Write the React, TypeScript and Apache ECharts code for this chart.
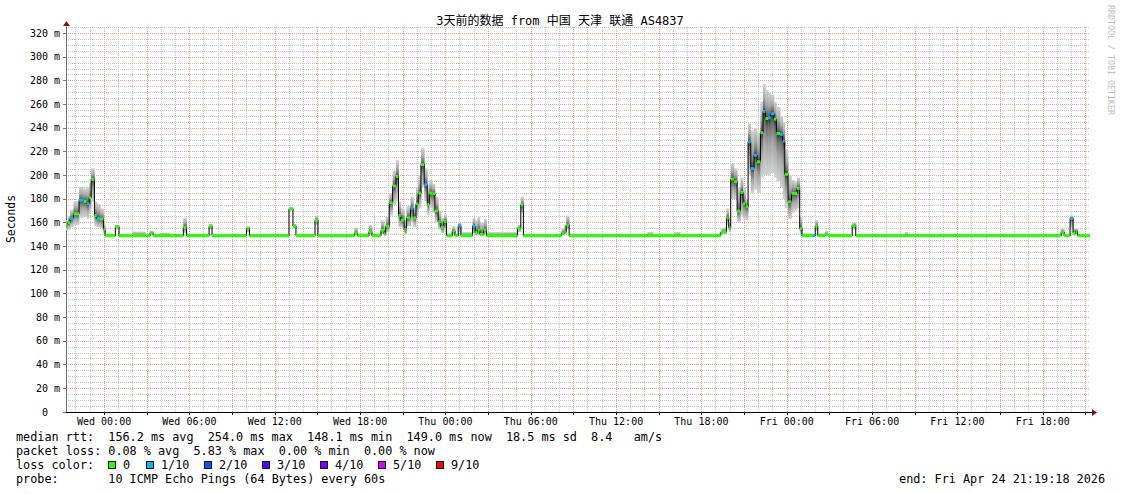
import { useEffect, useRef } from 'react';
import * as echarts from 'echarts';

// Time axis: hours relative to Wed 00:00. Window = Tue 21:19:18 .. Fri 21:19:18
const START = -2.6783;
const END = 69.3217;

// Segment start times (hours), median RTT (ms), smoke range (ms) and loss (of 10)
const hours = [
  -2.68, -2.55, -2.39, -2.16, -1.76, -1.45, -1.22, -1.05, -0.91, -0.68,
  -0.51, -0.28, -0.05, 0.07, 0.79, 1.05, 2.0, 2.9, 3.23, 3.44,
  3.9, 4.6, 5.57, 5.8, 7.38, 7.59, 10.01, 10.22, 13.0, 13.28,
  13.49, 14.83, 15.04, 17.6, 17.81, 18.62, 18.83, 19.47, 19.68, 19.8,
  20.05, 20.29, 20.52, 20.7, 20.87, 21.1, 21.27, 21.55, 21.74, 21.93,
  22.09, 22.28, 22.51, 22.72, 22.86, 23.07, 23.26, 23.49, 23.68, 23.89,
  24.08, 24.48, 24.67, 24.9, 25.09, 25.91, 26.09, 26.26, 26.42, 26.7,
  26.89, 29.07, 29.3, 29.48, 32.16, 32.36, 32.49, 32.7, 38.2, 38.6,
  40.1, 40.5, 43.13, 43.36, 43.52, 43.76, 43.92, 44.06, 44.29, 44.51,
  44.74, 44.93, 45.1, 45.28, 45.47, 45.7, 45.91, 46.15, 46.33, 46.5,
  46.69, 46.87, 47.1, 47.27, 47.53, 47.72, 47.86, 48.09, 48.33, 48.51,
  48.72, 48.91, 49.07, 49.85, 50.0, 50.18, 50.7, 50.9, 52.6, 52.85,
  56.3, 56.5, 67.29, 67.5, 67.92, 68.13, 68.31, 68.45,
];

const median = [
  158, 160, 163.5, 167.5, 179, 178, 176, 181, 196.5, 166,
  163.5, 163, 154, 149, 156.5, 149, 149, 149, 151.5, 149,
  149, 149, 156, 149, 157, 149, 155, 149, 171.7, 157,
  149, 162, 149, 151, 149, 152.3, 149, 153.7, 150.5, 157,
  176.8, 191, 199, 166, 162, 154, 164, 172, 164, 176,
  185, 209, 192, 175.5, 185, 184.5, 170, 160.7, 156, 161,
  149, 153, 149, 157.3, 149, 157, 151.5, 153.7, 150, 153.7,
  149, 155, 175, 149, 151, 152, 158, 149, 149, 149,
  149, 149, 149, 151.7, 152.3, 164, 155.7, 196.8, 194.6, 169.8,
  185.5, 176, 173.5, 228.3, 205.8, 217, 211.4, 236, 254, 248,
  248.6, 252, 247.5, 235.4, 234.5, 228.9, 200.8, 177.6, 184.7, 184.7,
  189, 155, 149, 149, 157, 149, 150, 149, 157.5, 149,
  149, 149, 152, 149, 163.5, 151, 153, 149,
];

const smokeLo = [
  153, 154, 156, 158, 164, 165, 163, 168, 178, 157,
  156, 155, 150, 148.5, 154, 148.5, 148.5, 148.5, 149.5, 148.5,
  148.5, 148.5, 151, 148.5, 154, 148.5, 152, 148.5, 170, 155,
  148.5, 158, 148.5, 149, 148.5, 150, 148.5, 150, 149, 152,
  166, 175, 178, 156, 155, 150, 157, 160, 156, 165,
  172, 190, 178, 166, 172, 168, 160, 154, 151, 153,
  148.5, 150, 148.5, 152, 148.5, 151, 149, 150, 149, 150,
  148.5, 152, 168, 148.5, 149, 150, 154, 148.5, 148.5, 148.5,
  148.5, 148.5, 148.5, 150, 150, 158, 152, 180, 180, 160,
  165, 163, 162, 200, 185, 188, 185, 198, 200, 200,
  200, 202, 198, 195, 190, 180, 172, 163, 168, 170,
  172, 150, 148.5, 148.5, 153, 148.5, 149, 148.5, 154, 148.5,
  148.5, 148.5, 150, 148.5, 155, 149, 150, 148.5,
];

const smokeHi = [
  162, 166, 171, 178, 190, 189, 190, 194, 206, 178,
  176, 172, 160, 150.5, 158, 150.5, 152.5, 150.5, 153, 150.5,
  151.5, 150.5, 164, 150.5, 159, 150.5, 157, 150.5, 173, 159,
  150.5, 166, 150.5, 156, 151, 158, 151, 162, 154, 165,
  185, 204, 213, 178, 172, 162, 174, 182, 174, 190,
  200, 223, 206, 192, 196, 193, 182, 170, 164, 167,
  151, 157, 151, 160, 152, 164, 162, 165, 160, 163,
  152, 158, 182, 150.5, 155, 158, 166, 150.5, 152, 150.5,
  152, 150.5, 151, 155, 156, 172, 160, 210, 206, 190,
  198, 190, 180, 244, 238, 240, 236, 262, 277, 272,
  270, 268, 262, 258, 250, 245, 222, 200, 196, 195,
  198, 165, 151, 150.5, 162, 151, 153, 150.5, 160, 150.5,
  152, 150.5, 155, 150.5, 166, 155, 155, 150.5,
];

const loss = [
  0, 0, 1, 0, 1, 0, 1, 0, 0, 0,
  1, 0, 0, 0, 0, 0, 0, 0, 0, 0,
  0, 0, 0, 0, 0, 0, 0, 0, 0, 0,
  0, 0, 0, 0, 0, 0, 0, 0, 0, 0,
  0, 0, 0, 0, 0, 0, 0, 1, 0, 0,
  0, 0, 1, 0, 0, 0, 0, 0, 0, 0,
  0, 0, 0, 1, 0, 1, 0, 0, 0, 0,
  0, 0, 0, 0, 0, 0, 0, 0, 0, 0,
  0, 0, 0, 0, 0, 0, 0, 0, 0, 0,
  0, 0, 0, 1, 1, 1, 0, 0, 1, 0,
  1, 1, 0, 0, 1, 1, 0, 0, 0, 0,
  0, 0, 0, 1, 0, 0, 0, 0, 0, 0,
  0, 0, 0, 0, 1, 0, 0, 0,
];

// Axis ticks
const xLabelHours = [0, 6, 12, 18, 24, 30, 36, 42, 48, 54, 60, 66];
const dayNames = ['Wed', 'Thu', 'Fri'];
const majorHours = Array.from({ length: 24 }, (_, i) => i * 3);
const minorHours = Array.from({ length: 72 }, (_, i) => i - 2);
const yLabelValues = [0, 20, 40, 60, 80, 100, 120, 140, 160, 180, 200, 220, 240, 260, 280, 300, 320];
const yMinorValues = Array.from({ length: 66 }, (_, i) => i * 5);
const Y_MAX = 325.3;

// Legend
const lossLabels = ['0', '1/10', '2/10', '3/10', '4/10', '5/10', '9/10'];
const lossColors = ['#26ff00', '#00b8ff', '#0059ff', '#5e00ff', '#7e00ff', '#dd00ff', '#ff0000'];
const rttLine = [
  ['median rtt:', 0], ['156.2 ms avg', 13], ['254.0 ms max', 27], ['148.1 ms min', 41],
  ['149.0 ms now', 55], ['18.5 ms sd', 69], ['8.4', 81], ['am/s', 87],
] as [string, number][];
const lossLine = [
  ['packet loss:', 0], ['0.08 % avg', 13], ['5.83 % max', 25], ['0.00 % min', 37], ['0.00 % now', 49],
] as [string, number][];
const probeLine = [['probe:', 0], ['10 ICMP Echo Pings (64 Bytes) every 60s', 13]] as [string, number][];
const TITLE = '3天前的数据 from 中国 天津 联通 AS4837';
const END_TEXT = 'end: Fri Apr 24 21:19:18 2026';

const MONO = "'DejaVu Sans Mono', monospace";
const TITLE_FONT = "'DejaVu Sans Mono', 'Noto Sans CJK SC', monospace";
const W = 1121;
const H = 494;
const GL = 66;
const GT = 27;
const GR = 31;
const GB = 82;
const LEG_X = 16;
const CH = 7.1;
const LEG_FS = 11.8;

function fmtHour(v: number) {
  const d = Math.floor(v / 24 + 1e-6);
  const hh = Math.round(v - d * 24);
  return `${dayNames[d]} ${String(hh).padStart(2, '0')}:00`;
}

function buildOption() {
  const segs = hours.map((h, i) => [
    h, i + 1 < hours.length ? hours[i + 1] : END, smokeLo[i], smokeHi[i], median[i], loss[i],
  ]);
  const lineData = hours.map((h, i) => [h, median[i]]);
  lineData.push([END, median[median.length - 1]]);

  const legendTexts: any[] = [];
  const addLine = (items: [string, number][], y: number) => {
    items.forEach(([t, col]) => {
      legendTexts.push({
        type: 'text', x: LEG_X + col * CH, y, silent: true,
        style: { text: t, fontFamily: MONO, fontSize: LEG_FS, fill: '#000', align: 'left', verticalAlign: 'middle' },
      });
    });
  };
  addLine(rttLine, 437);
  addLine(lossLine, 451);
  addLine([['loss color:', 0]], 465);
  addLine(probeLine, 479);
  const boxX = [108, 146, 204, 262, 320, 378, 436];
  lossLabels.forEach((l, i) => {
    legendTexts.push({
      type: 'rect', silent: true,
      shape: { x: boxX[i] + 0.5, y: 461.5, width: 7, height: 7 },
      style: { fill: lossColors[i], stroke: '#000', lineWidth: 1 },
    });
    legendTexts.push({
      type: 'text', x: boxX[i] + 15, y: 465, silent: true,
      style: { text: l, fontFamily: MONO, fontSize: LEG_FS, fill: '#000', align: 'left', verticalAlign: 'middle' },
    });
  });
  legendTexts.push({
    type: 'text', x: 1105, y: 479, silent: true,
    style: { text: END_TEXT, fontFamily: MONO, fontSize: LEG_FS, fill: '#000', align: 'right', verticalAlign: 'middle' },
  });

  const plotRight = W - GR;
  const plotBottom = H - GB;

  return {
    animation: false,
    backgroundColor: '#ffffff',
    grid: { left: GL, right: GR, top: GT, bottom: GB, containLabel: false },
    xAxis: [
      {
        type: 'value', min: START, max: END, position: 'bottom', z: 2,
        axisLine: { show: true, onZero: false, lineStyle: { color: '#000', width: 1 } },
        axisTick: { show: true, customValues: majorHours, length: 3, lineStyle: { color: '#000' } },
        axisLabel: {
          customValues: xLabelHours, formatter: fmtHour, color: '#000',
          fontFamily: MONO, fontSize: 10, margin: 4,
        },
        splitLine: { show: true, lineStyle: { color: '#f39a9a', type: [1, 1], width: 1 } },
      },
      {
        type: 'value', min: START, max: END, position: 'top', z: 1,
        axisLine: { show: false },
        axisTick: { show: false, customValues: minorHours },
        axisLabel: { show: false },
        splitLine: { show: true, lineStyle: { color: '#c4c4c4', type: [1, 1], width: 1 } },
      },
    ],
    yAxis: [
      {
        type: 'value', min: 0, max: Y_MAX, position: 'left', z: 2,
        axisLine: { show: true, onZero: false, lineStyle: { color: '#707070', width: 1 } },
        axisTick: { show: true, customValues: yLabelValues, length: 3, lineStyle: { color: '#707070' } },
        axisLabel: {
          customValues: yLabelValues,
          formatter: (v: number) => (v === 0 ? '0\u00a0\u00a0' : `${v} m`),
          color: '#000', fontFamily: MONO, fontSize: 10, margin: 6,
        },
        splitLine: { show: true, lineStyle: { color: '#f39a9a', type: [1, 1], width: 1 } },
      },
      {
        type: 'value', min: 0, max: Y_MAX, position: 'right', z: 1,
        axisLine: { show: false },
        axisTick: { show: false, customValues: yMinorValues },
        axisLabel: { show: false },
        splitLine: { show: true, lineStyle: { color: '#c4c4c4', type: [1, 1], width: 1 } },
      },
    ],
    series: [
      {
        type: 'custom', name: 'smoke', xAxisIndex: 0, yAxisIndex: 0, z: 3, clip: true, silent: true,
        data: segs,
        renderItem: (_p: any, api: any) => {
          const t0 = api.value(0), t1 = api.value(1), lo = api.value(2), hi = api.value(3), med = api.value(4);
          const a = api.coord([t0, hi]);
          const b = api.coord([t1, lo]);
          const p = hi > lo ? Math.min(0.97, Math.max(0.03, (hi - med) / (hi - lo))) : 0.5;
          return {
            type: 'rect',
            shape: { x: a[0], y: a[1], width: b[0] - a[0] + 0.4, height: Math.max(1, b[1] - a[1]) },
            style: {
              fill: new echarts.graphic.LinearGradient(0, 0, 0, 1, [
                { offset: 0, color: '#d2d2d2' },
                { offset: p * 0.5, color: '#a9a9a9' },
                { offset: p * 0.85, color: '#6c6c6c' },
                { offset: p, color: '#2e2e2e' },
                { offset: p + (1 - p) * 0.15, color: '#6c6c6c' },
                { offset: p + (1 - p) * 0.5, color: '#a9a9a9' },
                { offset: 1, color: '#d2d2d2' },
              ]),
            },
          };
        },
      },
      {
        type: 'line', name: 'median', xAxisIndex: 0, yAxisIndex: 0, z: 4, silent: true,
        data: lineData, step: 'end', showSymbol: false, symbol: 'none',
        lineStyle: { color: '#000', width: 1 },
      },
      {
        type: 'custom', name: 'loss', xAxisIndex: 0, yAxisIndex: 0, z: 5, clip: true, silent: true,
        data: segs,
        renderItem: (_p: any, api: any) => {
          const t0 = api.value(0), t1 = api.value(1), med = api.value(4), l = api.value(5);
          const a = api.coord([t0, med]);
          const b = api.coord([t1, med]);
          return {
            type: 'rect',
            shape: { x: a[0], y: a[1] - 1.5, width: b[0] - a[0], height: 3 },
            style: { fill: lossColors[l] },
          };
        },
      },
    ],
    graphic: {
      elements: [
        {
          type: 'text', x: 560, y: 21, silent: true,
          style: { text: TITLE, fontFamily: TITLE_FONT, fontSize: 12, fill: '#000', align: 'center', verticalAlign: 'middle' },
        },
        {
          type: 'text', x: 11, y: 219, rotation: Math.PI / 2, silent: true,
          style: { text: 'Seconds', fontFamily: MONO, fontSize: 11.4, fill: '#000', align: 'center', verticalAlign: 'middle' },
        },
        {
          type: 'text', x: 1111, y: 5, rotation: -Math.PI / 2, silent: true,
          style: { text: 'RRDTOOL / TOBI OETIKER', fontFamily: MONO, fontSize: 8.3, fill: '#c0c0c0', align: 'left', verticalAlign: 'middle' },
        },
        {
          type: 'line', silent: true,
          shape: { x1: plotRight, y1: plotBottom + 0.5, x2: plotRight + 4, y2: plotBottom + 0.5 },
          style: { stroke: '#000', lineWidth: 1 },
        },
        {
          type: 'polygon', silent: true,
          shape: { points: [[plotRight + 2, plotBottom - 3], [plotRight + 2, plotBottom + 4], [plotRight + 7, plotBottom + 0.5]] },
          style: { fill: '#7a1a1a' },
        },
        {
          type: 'polygon', silent: true,
          shape: { points: [[GL - 3, GT - 1], [GL + 4, GT - 1], [GL + 0.5, GT - 6]] },
          style: { fill: '#7a1a1a' },
        },
        ...legendTexts,
      ],
    },
  };
}

export default function App() {
  const ref = useRef<HTMLDivElement>(null);
  useEffect(() => {
    if (!ref.current) return;
    const chart = echarts.init(ref.current, null, { renderer: 'svg', width: W, height: H });
    chart.setOption(buildOption() as any);
    return () => chart.dispose();
  }, []);
  return <div ref={ref} style={{ position: 'absolute', left: 0, top: 0, width: W, height: H, background: '#fff' }} />;
}
